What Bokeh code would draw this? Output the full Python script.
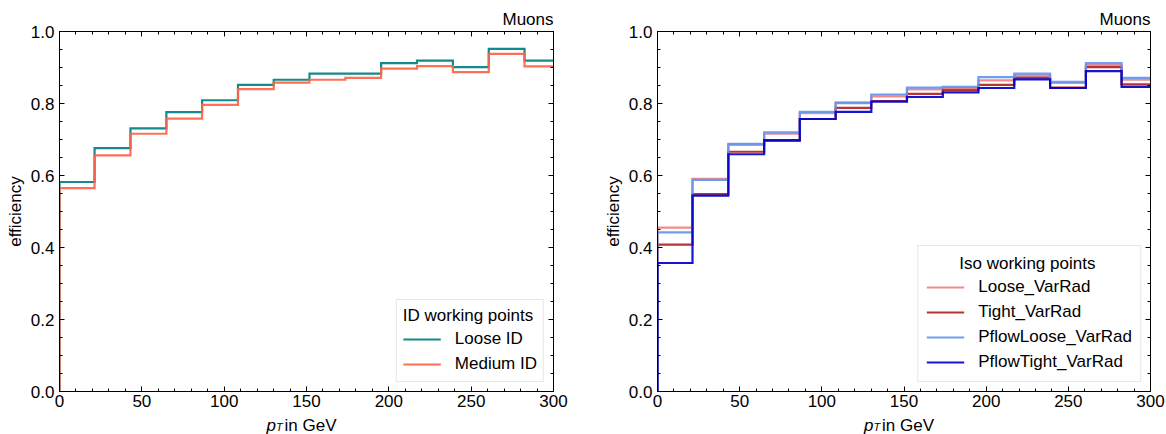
import numpy as np
from bokeh.plotting import figure
from bokeh.models import (LinearAxis, Range1d, SingleIntervalTicker,
                          PrintfTickFormatter)
from bokeh.core.properties import value
from bokeh.layouts import row
from bokeh.embed import file_html
from bokeh.resources import INLINE

# ---------------- data ----------------
bin_edges = [0, 21.3, 43.1, 64.9, 86.6, 108.4, 130.1, 151.8, 173.6,
             195.3, 217.1, 238.9, 260.7, 282.4, 304.2]

loose_id = [0.582, 0.676, 0.731, 0.776, 0.809, 0.852, 0.866, 0.883, 0.883,
            0.912, 0.919, 0.901, 0.952, 0.919]
medium_id = [0.565, 0.656, 0.716, 0.758, 0.796, 0.840, 0.858, 0.866, 0.871,
             0.897, 0.904, 0.887, 0.938, 0.903]

loose_varrad = [0.455, 0.591, 0.685, 0.716, 0.773, 0.803, 0.820, 0.839, 0.844,
                0.864, 0.878, 0.857, 0.907, 0.866]
tight_varrad = [0.408, 0.548, 0.666, 0.696, 0.757, 0.788, 0.807, 0.827, 0.838,
                0.852, 0.872, 0.844, 0.901, 0.853]
pflowloose_varrad = [0.442, 0.588, 0.688, 0.720, 0.777, 0.801, 0.825, 0.844,
                     0.846, 0.873, 0.883, 0.860, 0.912, 0.871]
pflowtight_varrad = [0.357, 0.544, 0.659, 0.698, 0.757, 0.777, 0.805, 0.818,
                     0.831, 0.843, 0.867, 0.843, 0.890, 0.846]

left_series = [("Loose ID", loose_id, "#008080"),
               ("Medium ID", medium_id, "#ff6347")]
right_series = [("Loose_VarRad", loose_varrad, "#f08080"),
                ("Tight_VarRad", tight_varrad, "#b22222"),
                ("PflowLoose_VarRad", pflowloose_varrad, "#6495ed"),
                ("PflowTight_VarRad", pflowtight_varrad, "#0000cd")]

x_range_lim = (0, 300)
y_range_lim = (0, 1)

FONT = "Liberation Sans"
FS = "17px"
NB = "\u00a0"


def step_path(edges, vals):
    xs = [edges[0]]
    ys = [0.0]
    for i, v in enumerate(vals):
        xs += [edges[i], edges[i + 1]]
        ys += [v, v]
    xs.append(edges[-1])
    ys.append(0.0)
    return np.array(xs), np.array(ys)


def style_axis(ax, labels=True):
    ax.major_tick_in = 5
    ax.major_tick_out = 0
    ax.minor_tick_in = 3
    ax.minor_tick_out = 0
    ax.axis_line_color = "black"
    ax.major_tick_line_color = "black"
    ax.minor_tick_line_color = "black"
    ax.axis_line_width = 1
    if labels:
        ax.major_label_text_font = FONT
        ax.major_label_text_font_size = FS
        ax.major_label_text_color = "black"
    else:
        ax.major_label_text_color = None
        ax.major_label_text_font_size = "0px"
        ax.major_label_standoff = 0


def make_fig(series, legend_title, border_left, frame_w, border_right,
             legend_title_pad, legend_pad):
    p = figure(frame_width=frame_w, frame_height=360,
               min_border_left=border_left, min_border_right=border_right,
               min_border_top=31, min_border_bottom=43,
               x_range=Range1d(*x_range_lim), y_range=Range1d(*y_range_lim),
               title="Muons",
               output_backend="svg", toolbar_location=None)
    p.title.align = "right"
    p.title.text_font = FONT
    p.title.text_font_size = FS
    p.title.text_font_style = "normal"
    p.title.text_color = "black"
    p.title.standoff = 5
    p.title.offset = 0

    p.xgrid.visible = False
    p.ygrid.visible = False
    p.outline_line_color = "black"
    p.background_fill_color = "white"
    p.border_fill_color = "white"

    xt = SingleIntervalTicker(interval=50, num_minor_ticks=5)
    yt = SingleIntervalTicker(interval=0.2, num_minor_ticks=4)

    p.xaxis.ticker = xt
    p.yaxis.ticker = yt
    p.yaxis.formatter = PrintfTickFormatter(format="%.1f")
    p.xaxis.formatter = PrintfTickFormatter(format="%d")
    for ax in p.xaxis + p.yaxis:
        style_axis(ax)
    p.xaxis.major_label_standoff = 3
    p.yaxis.major_label_standoff = 5
    p.yaxis.axis_label = "efficiency"
    p.yaxis.axis_label_text_font = FONT
    p.yaxis.axis_label_text_font_size = FS
    p.yaxis.axis_label_text_font_style = "normal"
    p.yaxis.axis_label_text_color = "black"
    p.yaxis.axis_label_standoff = 3

    top = LinearAxis(ticker=xt)
    style_axis(top, labels=False)
    p.add_layout(top, "above")
    right = LinearAxis(ticker=yt)
    style_axis(right, labels=False)
    p.add_layout(right, "right")

    for name, vals, color in series:
        xs, ys = step_path(bin_edges, vals)
        p.line(xs, ys, line_color=color, line_width=2.2, line_alpha=0.92,
               line_join="miter", legend_label=name)

    lg = p.legend[0]
    lg.location = "bottom_right"
    lg.margin = 9
    lg.padding = legend_pad
    lg.spacing = 3
    lg.label_height = 22
    lg.glyph_height = 22
    lg.glyph_width = 38
    lg.label_standoff = 14
    lg.label_text_font = FONT
    lg.label_text_font_size = FS
    lg.label_text_color = "black"
    lg.title = NB * legend_title_pad + legend_title
    lg.title_text_font = FONT
    lg.title_text_font_size = FS
    lg.title_text_font_style = "normal"
    lg.title_text_color = "black"
    lg.title_standoff = 2
    lg.border_line_color = "#d0d0d0"
    lg.border_line_width = 1
    lg.background_fill_color = "white"
    lg.background_fill_alpha = 0.8

    # x-axis title  p_T in GeV  (drawn at overlay level, below the frame)
    xc = (x_range_lim[0] + x_range_lim[1]) / 2
    p.text(x=[xc], y=[-0.0953], text=["p"], x_offset=-40,
           text_font=value(FONT), text_font_size=value(FS),
           text_font_style="italic", text_baseline="alphabetic",
           text_align="left", text_color="black", level="overlay")
    p.text(x=[xc], y=[-0.0986], text=["T"], x_offset=-30.5,
           text_font=value(FONT), text_font_size=value("11px"),
           text_font_style="italic", text_baseline="alphabetic",
           text_align="left", text_color="black", level="overlay")
    p.text(x=[xc], y=[-0.0953], text=["in GeV"], x_offset=-22,
           text_font=value(FONT), text_font_size=value(FS),
           text_baseline="alphabetic", text_align="left",
           text_color="black", level="overlay")
    return p


p1 = make_fig(left_series, "ID working points", 59, 494, 47, 0, 6)
p2 = make_fig(right_series, "Iso working points", 55, 493, 18, 7, 8)

layout = row(p1, p2)
open("out.html", "w").write(file_html(layout, INLINE))
